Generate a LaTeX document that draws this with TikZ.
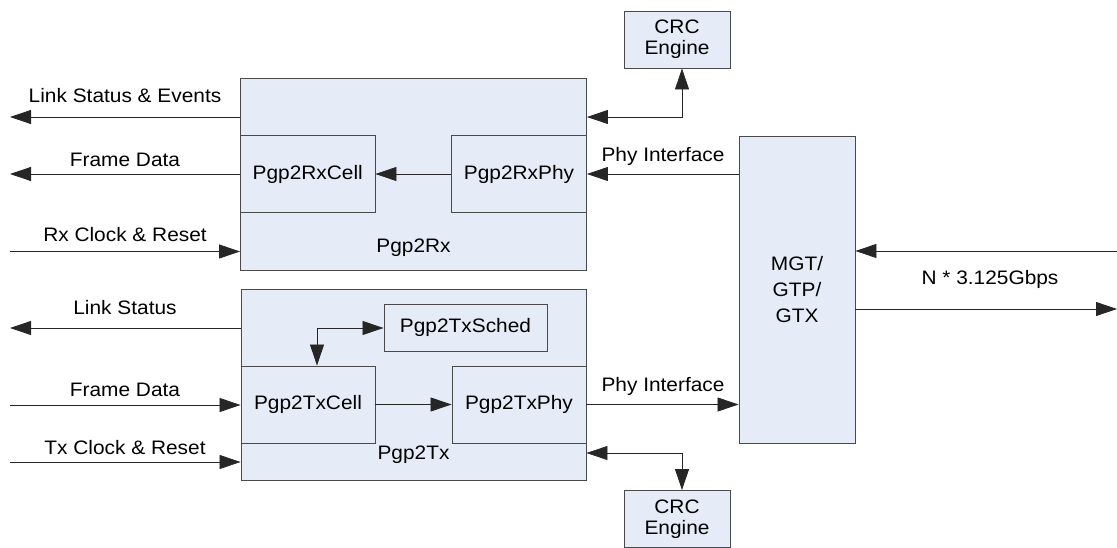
\documentclass[tikz,border=0pt]{standalone}
\usepackage{fontspec}
\setmainfont{Liberation Sans}[FakeStretch=1.07]
\usetikzlibrary{arrows.meta}
\definecolor{boxfill}{HTML}{E6ECF7}
\definecolor{boxline}{HTML}{4A4A4A}
\begin{document}
\begin{tikzpicture}[x=1pt,y=-1pt,
  font=\fontsize{19.5}{21}\selectfont,
  blk/.style={draw=boxline, fill=boxfill, line width=0.9pt, inner sep=0pt, align=center},
  conn/.style={line width=0.8pt, draw=black!85},
  tip/.style={-{Triangle[length=21pt,width=14pt]}},
  dbl/.style={{Triangle[length=21pt,width=14pt]}-{Triangle[length=21pt,width=14pt]}},
  lbl/.style={anchor=base, inner sep=0pt}]
\useasboundingbox (0,0) rectangle (1117,548);

% Rx block
\node[blk, minimum width=346pt, minimum height=192pt] (rx) at (413.5,174) {};
\node[blk, minimum width=134.5pt, minimum height=77pt] (rxcell) at (307.75,174) {Pgp2RxCell};
\node[blk, minimum width=135pt, minimum height=77pt] (rxphy) at (519,174) {Pgp2RxPhy};
\node[lbl] (rxlbl) at (413.5,253) {Pgp2Rx};

% Tx block
\node[blk, minimum width=345pt, minimum height=191pt] (tx) at (413.5,384.5) {};
\node[blk, minimum width=134pt, minimum height=77pt] (txcell) at (308,404.5) {Pgp2TxCell};
\node[blk, minimum width=134pt, minimum height=77pt] (txphy) at (519,404.5) {Pgp2TxPhy};
\node[blk, minimum width=163pt, minimum height=47pt] (txsched) at (465.5,327.5) {Pgp2TxSched};
\node[lbl] (txlbl) at (413.5,459) {Pgp2Tx};

% CRC engines
\node[blk, minimum width=106pt, minimum height=57pt] (crc1) at (677,39.5) {CRC\\Engine};
\node[blk, minimum width=106pt, minimum height=57pt] (crc2) at (677,519) {CRC\\Engine};

% MGT
\node[blk, minimum width=116pt, minimum height=307pt, font=\fontsize{19.5}{26}\selectfont] (mgt) at (797,289.5) {MGT/\\GTP/\\GTX};

% Left side Rx
\coordinate (l1) at (10,117);
\coordinate (l2) at (10,174);
\coordinate (l3) at (10,251.5);
\draw[conn,tip] (l1 -| rx.west) -- (l1);
\draw[conn,tip] (rxcell.west) -- (l2);
\draw[conn,tip] (l3) -- (l3 -| rx.west);
\node[lbl] (t1) at (125,103) {Link Status \& Events};
\node[lbl] (t2) at (125,167) {Frame Data};
\node[lbl] (t3) at (125,242) {Rx Clock \& Reset};

% Left side Tx
\coordinate (l4) at (10,328);
\coordinate (l5) at (10,405);
\coordinate (l6) at (10,462);
\draw[conn,tip] (l4 -| tx.west) -- (l4);
\draw[conn,tip] (l5) -- (l5 -| tx.west);
\draw[conn,tip] (l6) -- (l6 -| tx.west);
\node[lbl] (t4) at (125,314) {Link Status};
\node[lbl] (t5) at (125,396) {Frame Data};
\node[lbl] (t6) at (125,454) {Tx Clock \& Reset};

% internal
\draw[conn,tip] (rxphy.west) -- (rxcell.east);
\draw[conn,tip] (txcell.east) -- (txphy.west);
\coordinate (c2) at (317,328);
\draw[conn,dbl] (txsched.west |- c2) -- (c2) -- (c2 |- txcell.north);

% CRC connectors
\coordinate (c1) at (682,117);
\draw[conn,dbl] (c1 -| rx.east) -- (c1) -- (c1 |- crc1.south);
\coordinate (c3) at (682,453);
\draw[conn,dbl] (c3 -| tx.east) -- (c3) -- (c3 |- crc2.north);

% Phy interfaces
\draw[conn,tip] (mgt.west |- rxphy.east) -- (rxphy.east);
\draw[conn,tip] (txphy.east) -- (mgt.west |- txphy.east);
\node[lbl] (p1) at (663,161.5) {Phy Interface};
\node[lbl] (p2) at (663,391) {Phy Interface};

% Right side
\coordinate (r1) at (1117,251);
\coordinate (r2) at (1117,309);
\draw[conn,tip] (r1) -- (r1 -| mgt.east);
\draw[conn,tip] (r2 -| mgt.east) -- (r2);
\node[lbl] (n1) at (990,285) {N * 3.125Gbps};
\end{tikzpicture}
\end{document}
